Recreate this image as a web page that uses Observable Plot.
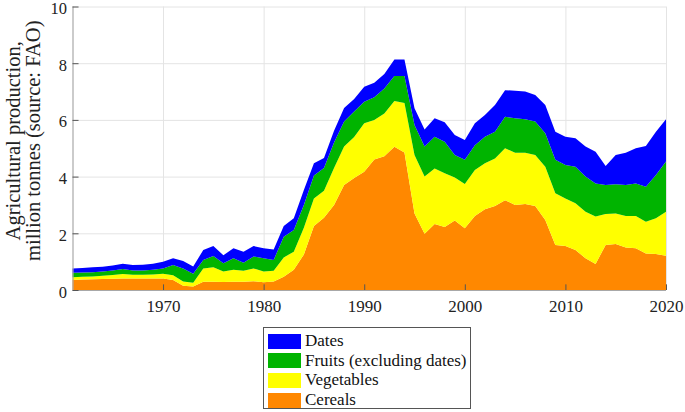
<!DOCTYPE html>
<html><head><meta charset="utf-8">
<script src="https://cdn.jsdelivr.net/npm/d3@7"></script>
<script src="https://cdn.jsdelivr.net/npm/@observablehq/plot@0.6"></script>
<style>
body{margin:0;background:#fff;font-family:"Liberation Serif",serif;width:685px;height:412px;position:relative;overflow:hidden;}
#chart{position:absolute;left:0;top:0;}
#legend{position:absolute;left:263px;top:327px;width:208px;height:82px;border:1px solid #555;box-sizing:border-box;background:#fff;}
.row{position:absolute;left:4px;height:16px;display:flex;align-items:center;font-size:17px;color:#111;white-space:nowrap;}
.sw{width:33px;height:15px;margin-right:4px;}
</style></head>
<body>
<div id="chart"></div>
<div id="legend"></div>
<script>
const years = [1961,1962,1963,1964,1965,1966,1967,1968,1969,1970,
1971,1972,1973,1974,1975,1976,1977,1978,1979,1980,
1981,1982,1983,1984,1985,1986,1987,1988,1989,1990,
1991,1992,1993,1994,1995,1996,1997,1998,1999,2000,
2001,2002,2003,2004,2005,2006,2007,2008,2009,2010,
2011,2012,2013,2014,2015,2016,2017,2018,2019,2020];
const cereals = [0.35,0.37,0.38,0.39,0.40,0.41,0.41,0.41,0.41,0.41,
0.35,0.15,0.12,0.29,0.29,0.28,0.29,0.29,0.31,0.27,
0.30,0.47,0.71,1.25,2.26,2.55,3.00,3.70,3.95,4.17,
4.60,4.72,5.05,4.85,2.70,1.98,2.33,2.22,2.45,2.18,
2.61,2.85,2.96,3.17,3.00,3.03,2.96,2.47,1.59,1.55,
1.41,1.12,0.92,1.59,1.62,1.50,1.47,1.29,1.27,1.21];
const vegetables = [0.10,0.10,0.10,0.11,0.13,0.15,0.13,0.13,0.14,0.16,
0.17,0.15,0.14,0.47,0.51,0.37,0.42,0.39,0.45,0.38,
0.38,0.68,0.64,0.95,0.97,0.95,1.30,1.36,1.45,1.71,
1.40,1.51,1.62,1.75,2.06,2.02,1.96,1.90,1.52,1.56,
1.62,1.62,1.68,1.83,1.84,1.81,1.80,1.88,1.82,1.68,
1.65,1.64,1.67,1.09,1.08,1.11,1.14,1.12,1.26,1.55];
const fruits = [0.16,0.15,0.15,0.15,0.16,0.18,0.15,0.15,0.16,0.19,
0.36,0.46,0.31,0.30,0.40,0.29,0.41,0.28,0.42,0.47,
0.38,0.73,0.77,0.80,0.81,0.80,0.90,0.88,0.90,0.76,
0.80,0.88,0.88,0.95,1.06,1.06,1.12,1.11,0.79,0.85,
0.88,0.94,0.94,1.11,1.22,1.18,1.18,1.18,1.18,1.18,
1.29,1.24,1.17,1.02,1.03,1.09,1.15,1.23,1.53,1.77];
const dates = [0.15,0.16,0.17,0.17,0.17,0.19,0.19,0.20,0.22,0.24,
0.24,0.26,0.26,0.35,0.35,0.29,0.35,0.39,0.37,0.35,
0.37,0.38,0.41,0.53,0.43,0.36,0.42,0.48,0.44,0.53,
0.51,0.51,0.58,0.58,0.59,0.60,0.65,0.69,0.71,0.70,
0.77,0.76,0.95,0.94,0.97,0.98,0.94,1.00,0.99,1.00,
1.00,1.06,1.12,0.67,1.03,1.14,1.24,1.44,1.52,1.49];
const seriesNames = ["Cereals","Vegetables","Fruits (excluding dates)","Dates"];
const seriesColors = ["#ff8800","#ffff00","#00b400","#0000ff"];
const xTicks = [1970,1980,1990,2000,2010,2020];
const yTicks = [0,2,4,6,8,10];
const yLabel = "Agricultural production,\nmillion tonnes (source: FAO)";

const table = [];
[cereals, vegetables, fruits, dates].forEach((arr, i) =>
  arr.forEach((v, j) => table.push({year: years[j], value: v, series: seriesNames[i]})));

const chart = Plot.plot({
  width: 685, height: 318,
  marginLeft: 72.5, marginRight: 19, marginTop: 6.5, marginBottom: 28,
  style: {fontFamily: "'Liberation Serif', serif", fontSize: "17px", color: "#222", background: "white", overflow: "visible"},
  x: {domain: [1961, 2020], ticks: xTicks, tickFormat: "d", label: null},
  y: {domain: [0, 10], ticks: yTicks, label: null},
  color: {domain: seriesNames, range: seriesColors},
  marks: [
    Plot.gridX(xTicks, {stroke: "#e4e4e4", strokeOpacity: 1}),
    Plot.gridY(yTicks, {stroke: "#e4e4e4", strokeOpacity: 1}),
    Plot.areaY(table, Plot.stackY({x: "year", y: "value", z: "series", fill: "series", order: seriesNames})),
    Plot.ruleX([1961], {stroke: "#a8a8a8", strokeWidth: 1.2}),
    Plot.ruleY([0], {stroke: "#a8a8a8", strokeWidth: 1.2}),
    Plot.ruleY(yTicks, {x1: 1961, x2: 1961.6, stroke: "#555"}),
    Plot.ruleX(xTicks, {y1: 0, y2: 0.2, stroke: "#555"}),
    Plot.axisX(xTicks, {tickSize: 0, tickPadding: 9, fontSize: 17, tickFormat: "d"}),
    Plot.axisY(yTicks, {tickSize: 0, tickPadding: 6, fontSize: 16.5, dy: 1.8}),
    Plot.text([yLabel], {frameAnchor: "left", textAnchor: "middle", rotate: -90, dx: -49.5, dy: -8, fontSize: 20.5, lineHeight: 1.0, fill: "#222"})
  ]
});
document.getElementById("chart").appendChild(chart);

const legend = document.getElementById("legend");
const order = [3, 2, 1, 0];
order.forEach((k, i) => {
  const row = document.createElement("div");
  row.className = "row";
  row.style.top = (5 + i * 19.7) + "px";
  const sw = document.createElement("div");
  sw.className = "sw";
  sw.style.background = seriesColors[k];
  const label = document.createElement("span");
  label.textContent = seriesNames[k];
  row.appendChild(sw); row.appendChild(label);
  legend.appendChild(row);
});
</script>
</body></html>
